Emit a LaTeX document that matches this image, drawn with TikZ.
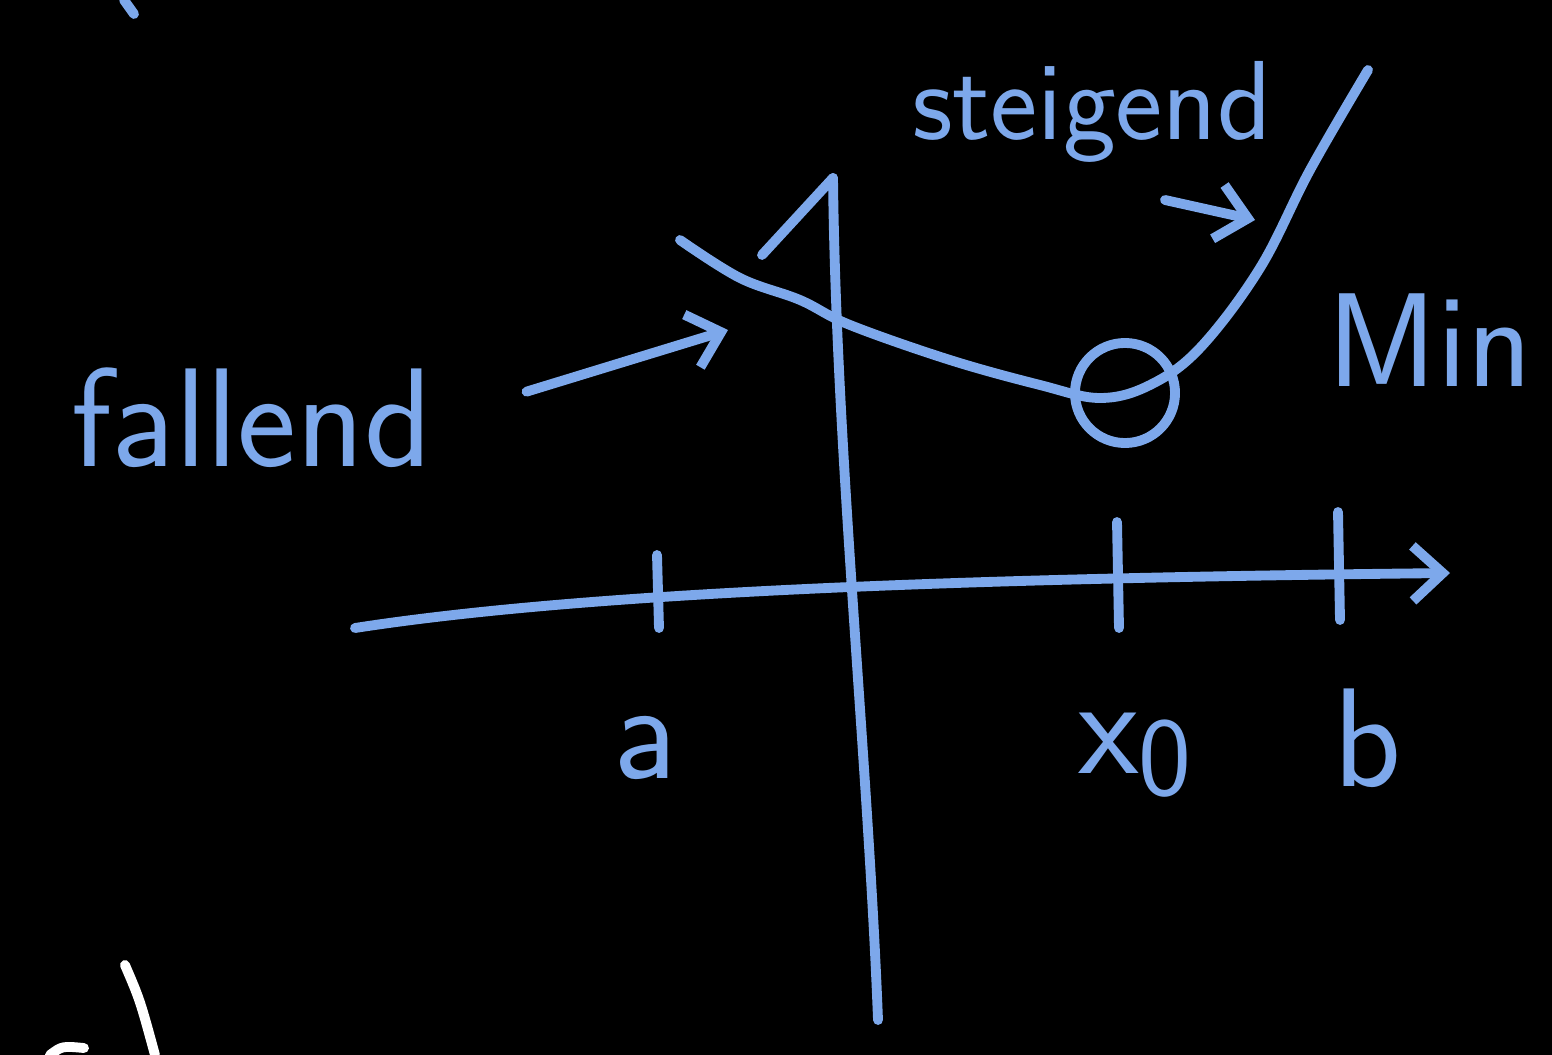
\documentclass[tikz,border=0pt]{standalone}
\usepackage{tikz}
\usetikzlibrary{arrows.meta,positioning}
\definecolor{chalk}{RGB}{125,168,235}
\definecolor{board}{RGB}{0,0,0}

\begin{document}
\begin{tikzpicture}[
  x=0.01cm, y=-0.01cm,
  >={Straight Barb[length=3mm,width=5.5mm]},
  ink/.style={draw=chalk, line width=2.8pt, line cap=round, line join=round},
  lbl/.style={text=chalk, font=\fontsize{#1}{#1}\selectfont\sffamily, inner sep=2pt},
  lbl/.default=40]

% board
\fill[board] (0,0) rectangle (1552,1055);
\useasboundingbox (0,0) rectangle (1552,1055);

% axes
\coordinate (xs) at (355,628);
\coordinate (xe) at (1450,573);
\coordinate (ys) at (878,1020);
\coordinate (ye) at (833,178);
\draw[ink,->] (xs) .. controls (600,590) and (1000,578) .. (xe);
\draw[ink] (ys) .. controls (868,760) and (836,450) .. (ye);
\draw[ink] (762,255) -- (ye);

% ticks
\foreach \x/\t/\b in {657/555/628, 1117/522/628, 1338/512/620}
  \draw[ink] (\x,\t) -- (\x+2,\b);

% tick labels
\node[lbl] (a)  at (645,748) {a};
\node[lbl] (x0) at (1135,755) {x{\fontsize{32}{32}\selectfont\raisebox{-0.45ex}{0}}};
\node[lbl] (b)  at (1368,738) {b};

% the function
\draw[ink] plot[smooth, tension=0.6] coordinates {(680,240) (740,278) (800,300)
  (850,325) (950,360) (1040,385) (1100,398) (1150,385) (1200,348) (1260,268)
  (1310,170) (1368,70)};
\node[circle, ink, minimum size=1cm] (minpt) at (1125,393) {};

% labels and arrows
\node[lbl=40] (fall) at (252,418) {fallend};
\coordinate (fallTip) at (728,330);
\draw[ink,->,shorten <=9mm] (fall.east) -- (fallTip);

\node[lbl=32] (steig) at (1092,112) {steigend};
\coordinate (riseTail) at (1165,200);
\coordinate (riseTip) at (1255,220);
\draw[ink,->] (riseTail) -- (riseTip);

\node[lbl=38] (minlbl) at (1430,340) {Min};

% leftovers of other writing
\draw[ink] (124,0) -- (134,14);
\draw[line width=2.8pt, white, line cap=round] (125,965) .. controls (140,1000) .. (155,1055);
\draw[line width=2.8pt, white, line cap=round] (50,1055) .. controls (62,1046) .. (84,1048);

\end{tikzpicture}
\end{document}
